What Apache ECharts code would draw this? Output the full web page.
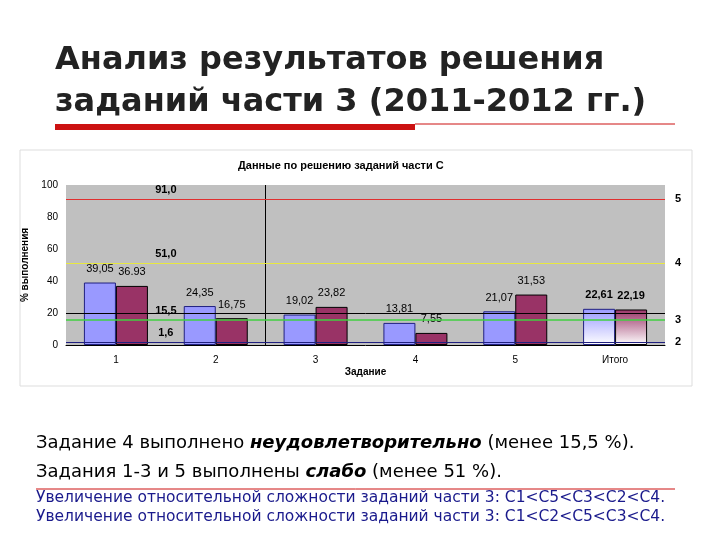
<!DOCTYPE html>
<html><head><meta charset="utf-8">
<script src="https://cdn.jsdelivr.net/npm/echarts@6/dist/echarts.min.js"></script>
<style>html,body{margin:0;padding:0;background:#fff}#c{width:720px;height:540px}</style>
</head><body><div id="c"></div>
<script>
const categories=['1','2','3','4','5','Итого'];
const series2011=[39.05,24.35,19.02,13.81,21.07,22.61];
const series2012=[36.93,16.75,23.82,7.55,31.53,22.19];
const labels2011=['39,05','24,35','19,02','13,81','21,07','22,61'];
const labels2012=['36.93','16,75','23,82','7,55','31,53','22,19'];
const levels=[91.0,51.0,15.5,1.6];
const levelLabels=['91,0','51,0','15,5','1,6'];
const gradeLabels=['5','4','3','2'];
const levelColors=['#e03030','#e8e840','#40d040','#202080'];
const yTicks=[0,20,40,60,80,100];

const chart=echarts.init(document.getElementById('c'));
const lbl=(arr)=>({show:true,position:'top',distance:8,color:'#000',fontSize:11,fontFamily:'Liberation Sans',
  formatter:p=>arr[p.dataIndex]});
function grad(c){return {type:'linear',x:0,y:0,x2:0,y2:1,colorStops:[{offset:0,color:c},{offset:1,color:'#fff'}]};}
const d1=series2011.map((v,i)=>i===5?{value:v,itemStyle:{color:grad('#9999ff')},label:{fontWeight:'bold'}}:v);
const d2=series2012.map((v,i)=>i===5?{value:v,itemStyle:{color:grad('#993366')},label:{fontWeight:'bold'}}:v);
const levelSeries=levels.map((v,i)=>({type:'line',xAxisIndex:1,data:[],
  markLine:{silent:true,symbol:'none',lineStyle:{color:levelColors[i],type:'solid',width:i===2?1.5:1.2},
    label:{show:true,position:'end',formatter:gradeLabels[i],fontWeight:'bold',fontSize:11,color:'#000',distance:10},
    data:[{yAxis:v}]},
  markPoint:{symbol:'rect',symbolSize:1,itemStyle:{color:'transparent'},
    label:{show:true,position:'top',distance:3,fontWeight:'bold',fontSize:11,color:'#000',formatter:levelLabels[i]},
    data:[{coord:[0.5,v]}]}}));
chart.setOption({
  animation:false,
  graphic:[
    {type:'text',left:55,top:40,style:{text:'Анализ результатов решения\nзаданий части 3 (2011-2012 гг.)',font:'bold 32px "DejaVu Sans"',fill:'#222',lineHeight:42}},
    {type:'rect',shape:{x:55,y:124,width:360,height:6},style:{fill:'#cc1111'}},
    {type:'line',shape:{x1:415,y1:124,x2:675,y2:124},style:{stroke:'#cc1111',lineWidth:1}},
    {type:'rect',shape:{x:20,y:150,width:672,height:236},style:{fill:'none',stroke:'#ddd',lineWidth:1}},
    {type:'text',left:238,top:160,style:{text:'Данные по решению заданий части С',font:'bold 11px "Liberation Sans"',fill:'#000'}},
    {type:'text',left:36,top:434,style:{text:'Задание 4 выполнено {b|неудовлетворительно} (менее 15,5 %).',font:'18px "DejaVu Sans"',fill:'#000',rich:{b:{font:'italic bold 18px "DejaVu Sans"'}}}},
    {type:'text',left:36,top:463,style:{text:'Задания 1-3 и 5 выполнены {b|слабо} (менее 51 %).',font:'18px "DejaVu Sans"',fill:'#000',rich:{b:{font:'italic bold 18px "DejaVu Sans"'}}}},
    {type:'line',shape:{x1:36,y1:489,x2:675,y2:489},style:{stroke:'#cc1111',lineWidth:1}},
    {type:'text',left:36,top:490,style:{text:'Увеличение относительной сложности заданий части 3: С1<С5<С3<С2<С4.',font:'15.5px "DejaVu Sans"',fill:'#1a1a8c'}},
    {type:'text',left:36,top:509,style:{text:'Увеличение относительной сложности заданий части 3: С1<С2<С5<С3<С4.',font:'15.5px "DejaVu Sans"',fill:'#1a1a8c'}}
  ],
  grid:{left:66,right:55,top:185,bottom:195,backgroundColor:'#c0c0c0',show:true,borderWidth:0},
  xAxis:[{type:'category',data:categories,name:'Задание',nameLocation:'middle',nameGap:22,
    nameTextStyle:{fontWeight:'bold',fontSize:10,color:'#000'},
    axisLine:{lineStyle:{color:'#000'}},axisTick:{show:false},
    axisLabel:{color:'#000',fontSize:10,margin:10}},
    {type:'value',min:-0.5,max:5.5,show:false}],
  yAxis:{type:'value',min:0,max:100,interval:20,name:'% выполнения',nameLocation:'middle',nameGap:26,
    nameTextStyle:{fontWeight:'bold',fontSize:10,color:'#000'},
    axisLine:{show:false},axisTick:{show:false},splitLine:{show:false},
    axisLabel:{color:'#000',fontSize:10,formatter:v=>yTicks.includes(v)?String(v):''}},
  series:[
    {type:'bar',data:d1,barWidth:32,barGap:'0%',itemStyle:{color:'#9999ff',borderColor:'#202080',borderWidth:1},
      label:lbl(labels2011)},
    {type:'bar',data:d2,barWidth:32,itemStyle:{color:'#993366',borderColor:'#000',borderWidth:1},
      label:lbl(labels2012)},
    {type:'line',xAxisIndex:1,data:[],
      markLine:{silent:true,symbol:'none',lineStyle:{color:'#000',type:'solid',width:1},label:{show:false},
        data:[{yAxis:20},[{coord:[1.5,0]},{coord:[1.5,100]}]]}},
    ...levelSeries
  ]
});
</script></body></html>
